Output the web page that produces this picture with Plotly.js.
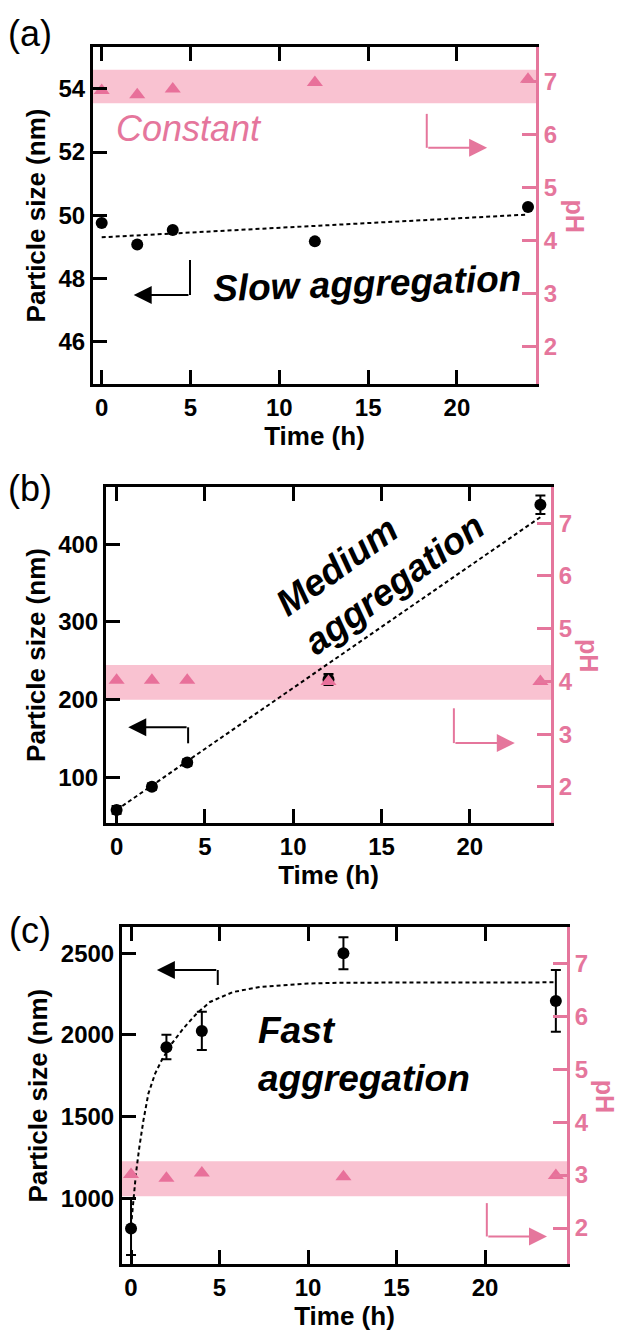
<!DOCTYPE html>
<html><head><meta charset="utf-8">
<script src="https://cdn.plot.ly/plotly-3.0.1.min.js"></script>
<style>html,body{margin:0;padding:0;background:#fff;}#plot{width:622px;height:1331px;}</style>
</head><body><div id="plot"></div>
<script>
// ---------- data ----------
const timeH = [0, 2, 4, 12, 24];
const xTicks = [0, 5, 10, 15, 20];
const phTicks = [2, 3, 4, 5, 6, 7];

// panel (a)
const sizeA = [49.75, 49.07, 49.53, 49.17, 50.26];
const phA = [6.83, 6.75, 6.86, 6.98, 7.04];
const fitAx = [0, 24];
const fitAy = [49.30, 50.02];
const bandA = [6.59, 7.22];
const sizeTicksA = [46, 48, 50, 52, 54];

// panel (b)
const sizeB = [58, 88, 119, 226, 451];
const errB = [5, 4, 4, 7, 12];
const phB = [4.02, 4.02, 4.02, 4.0, 4.0];
const fitBx = [0, 24];
const fitBy = [58, 435];
const bandB = [3.65, 4.31];
const sizeTicksB = [100, 200, 300, 400];

// panel (c)
const sizeC = [816, 1925, 2024, 2500, 2208];
const errCplus = [184, 76, 118, 98, 190];
const errCminus = [163, 73, 116, 98, 188];
const phC = [3.01, 2.94, 3.04, 2.97, 2.99];
const fitCx = [0, 0.13, 0.28, 0.47, 0.7, 0.98, 1.36, 1.73, 2.3, 2.95, 3.7, 4.46, 5.77, 7.3, 8.4, 10, 12, 16, 20, 24];
const fitCy = [830, 998, 1153, 1314, 1477, 1641, 1763, 1845, 1947, 2039, 2130, 2202, 2263, 2294, 2304, 2315, 2320, 2322, 2322, 2322];
const bandC = [2.60, 3.26];
const sizeTicksC = [1000, 1500, 2000, 2500];

// ---------- style / layout ----------
const W = 622, H = 1331;
const PINK = '#E5769C', TRI = '#E8709A', BAND = '#F9C2D1';
const FONT = 'Liberation Sans, Arial, Helvetica, sans-serif';
const fx = p => p / W;
const fy = p => 1 - p / H;

const panels = [
  {box: [93, 536, 47, 384], xr: [-0.49, 24.45], yr: [44.65, 55.33], pr: [1.30, 7.65], yt: sizeTicksA, lab: '(a)', labY: 33},
  {box: [106, 551, 486.7, 823.3], xr: [-0.6, 24.6], yr: [40.8, 474.2], pr: [1.31, 7.69], yt: sizeTicksB, lab: '(b)', labY: 488},
  {box: [122, 567, 927.3, 1264], xr: [-0.51, 24.63], yr: [598, 2659], pr: [1.32, 7.68], yt: sizeTicksC, lab: '(c)', labY: 930}
];

const layout = {
  width: W, height: H, margin: {l: 0, r: 0, t: 0, b: 0},
  paper_bgcolor: '#fff', plot_bgcolor: 'rgba(0,0,0,0)', showlegend: false,
  font: {family: FONT, color: '#000'},
  shapes: [], annotations: []
};

const traces = [];
panels.forEach((p, i) => {
  const n = i + 1;
  const xa = 'xaxis' + (n === 1 ? '' : n);
  const yL = 2 * n - 1, yR = 2 * n;
  const yLa = 'yaxis' + (yL === 1 ? '' : yL);
  const yRa = 'yaxis' + yR;
  const xid = 'x' + (n === 1 ? '' : n);
  const yLid = 'y' + (yL === 1 ? '' : yL);
  const yRid = 'y' + yR;
  layout[xa] = {
    domain: [fx(p.box[0]), fx(p.box[1])], range: p.xr, anchor: yLid,
    showline: true, linecolor: '#000', linewidth: 3, mirror: 'ticks',
    ticks: 'inside', ticklen: 14, tickwidth: 3, tickcolor: '#000',
    tickvals: xTicks, showgrid: false, zeroline: false,
    tickfont: {size: 24, weight: 'bold', color: '#000'},
    title: {text: '<b>Time (h)</b>', font: {size: 26, color: '#000'}, standoff: 0}
  };
  layout[yLa] = {
    domain: [fy(p.box[3]), fy(p.box[2])], range: p.yr, anchor: xid,
    showline: true, linecolor: '#000', linewidth: 3, mirror: false,
    ticks: 'inside', ticklen: 14, tickwidth: 3, tickcolor: '#000',
    tickvals: p.yt, showgrid: false, zeroline: false,
    tickfont: {size: 24, weight: 'bold', color: '#000'},
    title: {text: '<b>Particle size (nm)</b>', font: {size: 26, color: '#000'}, standoff: 6}
  };
  layout[yRa] = {
    domain: [fy(p.box[3]), fy(p.box[2])], range: p.pr, anchor: xid, overlaying: yLid, side: 'right',
    showline: true, linecolor: PINK, linewidth: 3,
    ticks: 'inside', ticklen: 14, tickwidth: 3, tickcolor: PINK,
    tickvals: phTicks, showgrid: false, zeroline: false,
    tickfont: {size: 24, weight: 'bold', color: PINK}
  };
  // pH title (reads top to bottom)
  layout.annotations.push({
    xref: 'paper', yref: 'paper', x: fx(p.box[1] + 38), y: fy((p.box[2] + p.box[3]) / 2),
    text: '<b>pH</b>', textangle: 90, showarrow: false,
    font: {size: 25, color: PINK, family: FONT}, xanchor: 'center', yanchor: 'middle'
  });
  // panel label
  layout.annotations.push({
    xref: 'paper', yref: 'paper', x: fx(30), y: fy(p.labY),
    text: p.lab, showarrow: false, font: {size: 36, color: '#000', family: FONT},
    xanchor: 'center', yanchor: 'middle'
  });
  p.ids = {xid, yLid, yRid};
});

const bands = [bandA, bandB, bandC];
const sizes = [sizeA, sizeB, sizeC];
const phs = [phA, phB, phC];
const fitsX = [fitAx, fitBx, fitCx];
const fitsY = [fitAy, fitBy, fitCy];

panels.forEach((p, i) => {
  const {xid, yLid, yRid} = p.ids;
  layout.shapes.push({
    type: 'rect', layer: 'below', xref: xid + ' domain', yref: yRid,
    x0: 0, x1: 1, y0: bands[i][0], y1: bands[i][1],
    fillcolor: BAND, line: {width: 0}
  });
  traces.push({
    x: fitsX[i], y: fitsY[i], xaxis: xid, yaxis: yLid, mode: 'lines',
    line: {color: '#000', width: 2, dash: '4px,3px'}, hoverinfo: 'skip'
  });
  const tr = {
    x: timeH, y: sizes[i], xaxis: xid, yaxis: yLid, mode: 'markers',
    marker: {color: '#000', size: 12, symbol: 'circle'}
  };
  if (i === 1) tr.error_y = {type: 'data', array: errB, color: '#000', thickness: 2, width: 5};
  if (i === 2) tr.error_y = {type: 'data', symmetric: false, array: errCplus, arrayminus: errCminus, color: '#000', thickness: 2, width: 5};
  traces.push(tr);
  traces.push({
    x: timeH, y: phs[i], xaxis: xid, yaxis: yRid, mode: 'markers',
    marker: {color: TRI, size: 14, symbol: 'triangle-up'}
  });
});

// L-shaped arrows: [panel, axis side, cornerX, startY, cornerY, tipX, color]
const arrows = [
  [0, 'L', 4.97, 48.58, 47.47, 1.8, '#000'],
  [0, 'R', 18.3, 6.39, 5.75, 21.7, PINK],
  [1, 'L', 4.05, 143.8, 164.4, 0.66, '#000'],
  [1, 'R', 19.1, 3.49, 2.83, 22.55, PINK],
  [2, 'L', 4.9, 2306, 2398, 1.46, '#000'],
  [2, 'R', 20.1, 2.47, 1.84, 23.5, PINK]
];
arrows.forEach(a => {
  const p = panels[a[0]];
  const yref = a[1] === 'L' ? p.ids.yLid : p.ids.yRid;
  layout.shapes.push({type: 'line', xref: p.ids.xid, yref: yref, x0: a[2], x1: a[2], y0: a[3], y1: a[4], line: {color: a[6], width: 2}});
  layout.annotations.push({
    xref: p.ids.xid, yref: yref, x: a[5], y: a[4], axref: p.ids.xid, ayref: yref, ax: a[2], ay: a[4],
    text: '', showarrow: true, arrowhead: 2, arrowsize: 1.8, arrowwidth: 2, arrowcolor: a[6], standoff: 0, startstandoff: 0
  });
});

// text labels
layout.annotations.push(
  {xref: 'paper', yref: 'paper', x: fx(189), y: fy(129), text: '<i>Constant</i>', showarrow: false,
   font: {size: 36, color: PINK, family: FONT}, xanchor: 'center', yanchor: 'middle'},
  {xref: 'paper', yref: 'paper', x: fx(367), y: fy(284), text: '<b><i>Slow aggregation</i></b>', showarrow: false, textangle: -2,
   font: {size: 37, color: '#000', family: FONT}, xanchor: 'center', yanchor: 'middle'},
  {xref: 'paper', yref: 'paper', x: fx(380), y: fy(564), text: '<b><i>Medium<br>aggregation</i></b>', showarrow: false, textangle: -36, align: 'left',
   font: {size: 37, color: '#000', family: FONT}, xanchor: 'center', yanchor: 'middle'},
  {xref: 'paper', yref: 'paper', x: fx(364), y: fy(1054), text: '<b><i>Fast<br>aggregation</i></b>', showarrow: false, align: 'left',
   font: {size: 37, color: '#000', family: FONT}, xanchor: 'center', yanchor: 'middle'}
);

Plotly.newPlot('plot', traces, layout, {displayModeBar: false, staticPlot: true});
</script></body></html>
